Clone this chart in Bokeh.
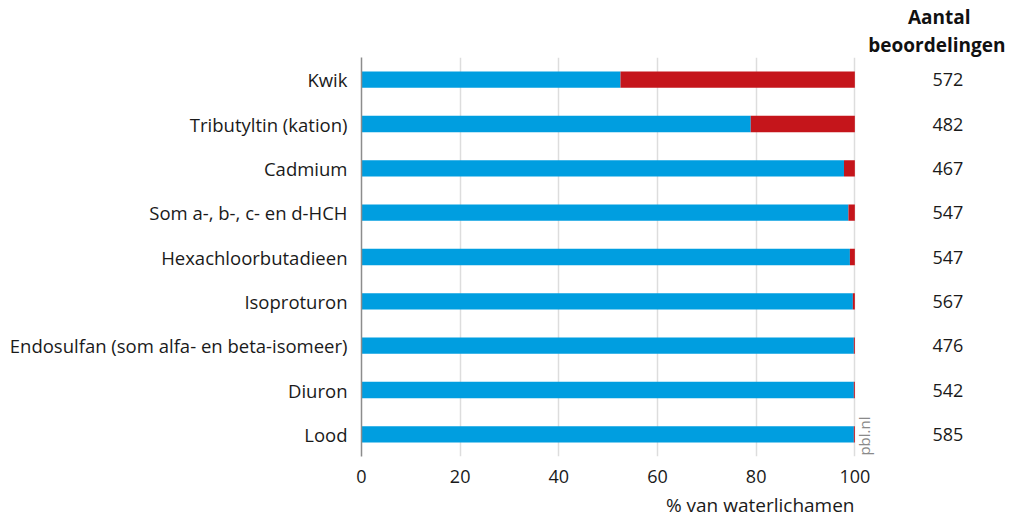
from bokeh.plotting import figure
from bokeh.models import Range1d, LinearAxis, Title, FixedTicker
from bokeh.embed import file_html
from bokeh.resources import INLINE
from bokeh.core.properties import value

categories = ["Kwik", "Tributyltin (kation)", "Cadmium", "Som a-, b-, c- en d-HCH",
              "Hexachloorbutadieen", "Isoproturon", "Endosulfan (som alfa- en beta-isomeer)",
              "Diuron", "Lood"]
voldoet = [52.5, 78.9, 97.8, 98.7, 99.0, 99.6, 99.8, 99.8, 99.8]
voldoet_niet = [47.5, 21.1, 2.2, 1.3, 1.0, 0.4, 0.2, 0.2, 0.2]
aantal = [572, 482, 467, 547, 547, 567, 476, 542, 585]
x_ticks = [0, 20, 40, 60, 80, 100]

BLUE = "#009EE0"
RED = "#C5151B"
FONT = "Open Sans"
TXT = "#1A1A1A"

n = len(categories)
ypos = [n - 1 - i for i in range(n)]  # first category on top

p = figure(width=1006, height=523, output_backend="svg", toolbar_location=None,
           y_range=Range1d(-0.5, n - 0.5), x_range=Range1d(0, 105))
p.min_border_left = 361
p.min_border_right = 127
p.min_border_top = 57
p.min_border_bottom = 67
p.outline_line_color = None
p.background_fill_color = "white"

red_left = voldoet
red_right = [v + r for v, r in zip(voldoet, voldoet_niet)]
p.hbar(y=ypos, left=0, right=voldoet, height=0.37, color=BLUE, line_color=None)
p.hbar(y=ypos, left=red_left, right=red_right, height=0.37, color=RED, line_color=None)

# x axis
xa = p.xaxis[0]
xa.ticker = FixedTicker(ticks=x_ticks)
xa.axis_line_color = None
xa.major_tick_line_color = None
xa.minor_tick_line_color = None
xa.major_label_text_font = FONT
xa.major_label_text_font_size = "18px"
xa.major_label_text_color = TXT
xa.major_label_standoff = 7
p.xgrid.ticker = FixedTicker(ticks=x_ticks)
p.xgrid.grid_line_color = "#DDDDDD"
p.xgrid.grid_line_width = 1.5
p.ygrid.grid_line_color = None

# y axis (category names)
ya = p.yaxis[0]
ya.ticker = FixedTicker(ticks=ypos)
ya.major_label_overrides = {y: c for y, c in zip(ypos, categories)}
ya.axis_line_color = "#8C8C8C"
ya.axis_line_width = 1.5
ya.major_tick_line_color = None
ya.minor_tick_line_color = None
ya.major_label_text_font = FONT
ya.major_label_text_font_size = "18.5px"
ya.major_label_text_color = TXT
ya.major_label_standoff = 8

# right axis with counts
ra = LinearAxis(
    ticker=FixedTicker(ticks=ypos),
    major_label_overrides={y: str(c) for y, c in zip(ypos, aantal)},
    axis_line_color=None, major_tick_line_color=None, minor_tick_line_color=None,
    major_label_text_font=FONT, major_label_text_font_size="18px",
    major_label_text_color=TXT, major_label_standoff=47)
p.add_layout(ra, "right")

# x axis title, right aligned at 100
p.add_layout(Title(text="% van waterlichamen", align="right", offset=25,
                   text_font=FONT, text_font_size="19px", text_font_style="normal",
                   text_color=TXT, standoff=8), "below")

# header above counts (two lines, first added sits nearest the frame)
p.add_layout(Title(text="beoordelingen", align="right", offset=-126,
                   text_font=FONT, text_font_size="19px", text_font_style="bold",
                   text_color="#111111", standoff=0), "above")
p.add_layout(Title(text="Aantal", align="right", offset=-91,
                   text_font=FONT, text_font_size="19px", text_font_style="bold",
                   text_color="#111111", standoff=0), "above")

# pbl.nl watermark
p.text(x=[101.9], y=[-0.48], text=["pbl.nl"], angle=1.5708,
       text_align="left", text_baseline="middle", text_font=value(FONT),
       text_font_size="15px", text_color="#8A8A8A")

open("out.html", "w").write(file_html(p, INLINE))
